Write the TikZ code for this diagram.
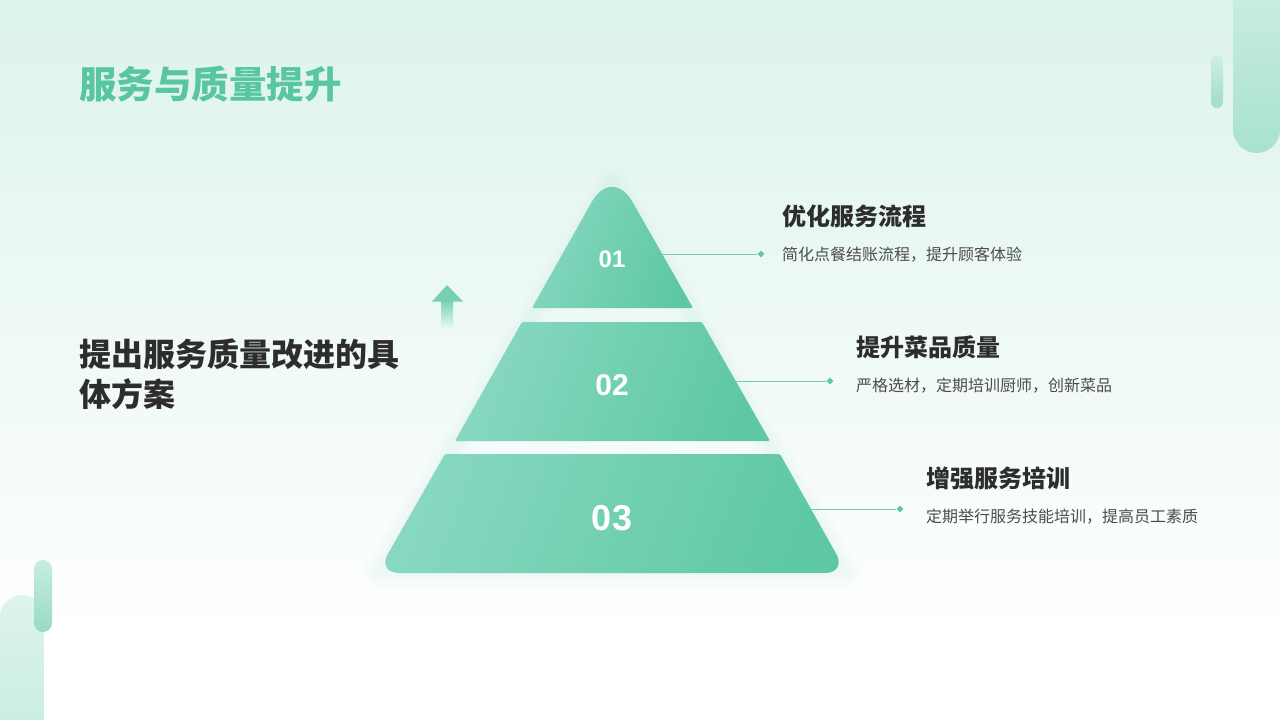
\documentclass[tikz,border=0pt]{standalone}
\usepackage{fontspec}
\setmainfont{Liberation Sans}
\newfontfamily\cjk{Noto Sans CJK SC}
\usetikzlibrary{shapes.geometric}
\definecolor{mint}{RGB}{94,200,164}
\definecolor{mintlight}{RGB}{136,216,193}
\definecolor{titlegreen}{RGB}{88,198,158}
\definecolor{txt}{RGB}{45,45,45}
\definecolor{bgtop}{RGB}{221,243,237}
\definecolor{linec}{RGB}{112,206,178}
\tikzset{
  tier/.style={left color=mintlight, right color=mint, shading angle=70},
  glow/.style={draw=mint, line join=round},
  numtxt/.style={text=white, font=\bfseries, inner sep=0},
  head/.style={anchor=west, inner sep=0, text=txt, font=\cjk\bfseries\fontsize{24}{27}\selectfont},
  desc/.style={anchor=west, inner sep=0, text=txt!85, font=\cjk\fontsize{16}{18}\selectfont},
  conn/.style={draw=linec, line width=0.9pt},
  dot/.style={diamond, fill=mint, inner sep=0, minimum size=7pt},
}
\begin{document}
\begin{tikzpicture}[x=1pt,y=-1pt]
\useasboundingbox (0,0) rectangle (1280,720);
% background
\shade[top color=bgtop, bottom color=white] (0,0) rectangle (1280,640);
\fill[white] (0,639.5) rectangle (1280,720);
% decorative bars
\shade[top color={rgb,255:red,208;green,239;blue,229}, bottom color={rgb,255:red,168;green,226;blue,206}, rounded corners=23.5] (1233,-40) rectangle (1280,153);
\shade[top color={rgb,255:red,206;green,238;blue,228}, bottom color={rgb,255:red,160;green,221;blue,200}, rounded corners=6] (1211,55) rectangle (1223,108);
\shade[top color={rgb,255:red,222;green,244;blue,237}, bottom color={rgb,255:red,196;green,236;blue,222}, rounded corners=22] (0,595) rectangle (44,760);
\shade[top color={rgb,255:red,200;green,237;blue,224}, bottom color={rgb,255:red,150;green,219;blue,196}, rounded corners=9] (34,560) rectangle (52,632);
% title
\node[anchor=west, inner sep=0, text=titlegreen, font=\cjk\bfseries\fontsize{37.5}{40}\selectfont] (title) at (79,84) {服务与质量提升};
% left text
\node[anchor=north west, inner sep=0, align=left, text=txt, font=\cjk\bfseries\fontsize{32}{40}\selectfont] (lefttxt) at (79,339) {提出服务质量改进的具\\体方案};
% arrow
\shade[top color=mint!85, bottom color=bgtop!60!white] (441,300) rectangle (453,328);
\fill[mint!85] (432,301.5) -- (447,285) -- (463,301.5) -- cycle;
% glow
\foreach \w/\o in {30/0.02,20/0.025,10/0.03}{
  \draw[glow, line width=\w pt, opacity=\o] (612,182) -- (845,572) -- (379,572) -- cycle;
}
% tiers
\shade[tier] (532,308) [rounded corners=41] -- (612,166) [rounded corners=1.5] -- (693,308) -- cycle;
\shade[tier, rounded corners=1.5] (522,322) -- (702,322) -- (770,441) -- (455,441) -- cycle;
\shade[tier] (445,454) [rounded corners=1.5] -- (780,454) [rounded corners=22] -- (847,573) -- (377,573) [rounded corners=1.5] -- cycle;
% numbers
\node[numtxt, font=\bfseries\fontsize{24}{26}\selectfont] (n1) at (612,259) {01};
\node[numtxt, font=\bfseries\fontsize{30}{32}\selectfont] (n2) at (612,385) {02};
\node[numtxt, font=\bfseries\fontsize{36}{38}\selectfont] (n3) at (612,518) {03};
% connectors
\coordinate (c1) at (662,254);
\coordinate (c2) at (735,381);
\coordinate (c3) at (811,509);
\node[dot] (d1) at (761,254) {};
\node[dot] (d2) at (830,381) {};
\node[dot] (d3) at (900,509) {};
\draw[conn] (c1) -- (d1);
\draw[conn] (c2) -- (d2);
\draw[conn] (c3) -- (d3);
% texts
\node[head] (h1) at (782,216) {优化服务流程};
\node[desc] (t1) at (782,255) {简化点餐结账流程，提升顾客体验};
\node[head] (h2) at (856,347) {提升菜品质量};
\node[desc] (t2) at (856,386) {严格选材，定期培训厨师，创新菜品};
\node[head] (h3) at (926,478) {增强服务培训};
\node[desc] (t3) at (926,517) {定期举行服务技能培训，提高员工素质};
\end{tikzpicture}
\end{document}
